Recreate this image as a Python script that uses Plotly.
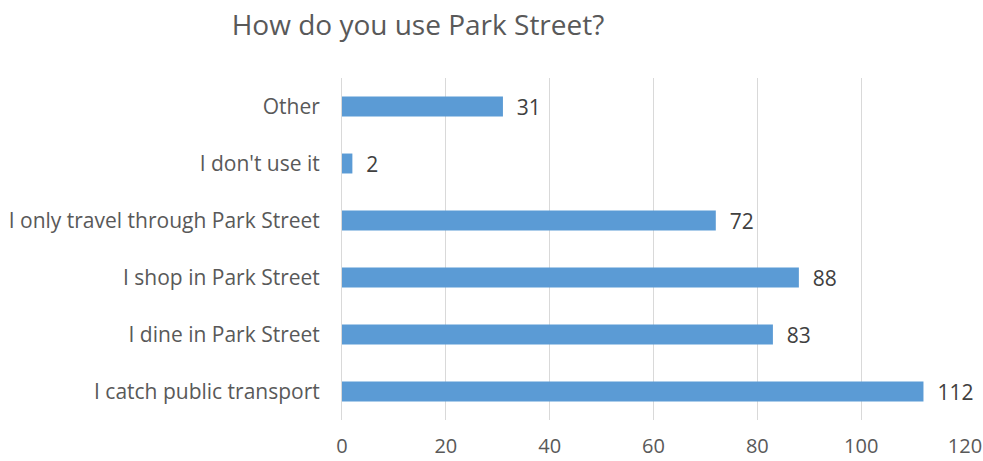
import plotly.graph_objects as go

# Survey responses: how people use Park Street
categories = [
    "I catch public transport",
    "I dine in Park Street",
    "I shop in Park Street",
    "I only travel through Park Street",
    "I don't use it",
    "Other",
]
counts = [112, 83, 88, 72, 2, 31]
x_ticks = [0, 20, 40, 60, 80, 100, 120]

TEXT = "#595959"
FONT = "Open Sans"

fig = go.Figure(
    go.Bar(
        x=counts,
        y=categories,
        orientation="h",
        width=0.35,
        marker=dict(color="#5B9BD5", line=dict(width=0)),
        text=counts,
        texttemplate="  %{x}",
        textposition="outside",
        constraintext="none",
        cliponaxis=False,
        textfont=dict(family=FONT, size=21, color="#404040"),
    )
)

fig.update_layout(
    width=983,
    height=461,
    margin=dict(l=342, r=18, t=78, b=41, autoexpand=False),
    paper_bgcolor="white",
    plot_bgcolor="white",
    showlegend=False,
    title=dict(
        text="How do you use Park Street?",
        x=418 / 983,
        xanchor="center",
        y=1 - 25 / 461,
        yanchor="middle",
        font=dict(family=FONT, size=28, color=TEXT),
    ),
    font=dict(family=FONT, color=TEXT),
)

fig.update_xaxes(
    range=[0, 120],
    tickvals=x_ticks,
    showgrid=True,
    gridcolor="#D9D9D9",
    gridwidth=1,
    zeroline=False,
    showline=False,
    ticks="",
    ticklabelstandoff=12,
    ticklabeloverflow="allow",
    automargin=False,
    tickfont=dict(family=FONT, size=20, color=TEXT),
    fixedrange=True,
)

fig.update_yaxes(
    categoryorder="array",
    categoryarray=categories,
    showgrid=False,
    zeroline=False,
    showline=True,
    linecolor="#D9D9D9",
    linewidth=1,
    ticks="",
    ticklabelstandoff=17,
    automargin=False,
    tickfont=dict(family=FONT, size=21, color=TEXT),
    fixedrange=True,
)

fig.write_html("out.html")
